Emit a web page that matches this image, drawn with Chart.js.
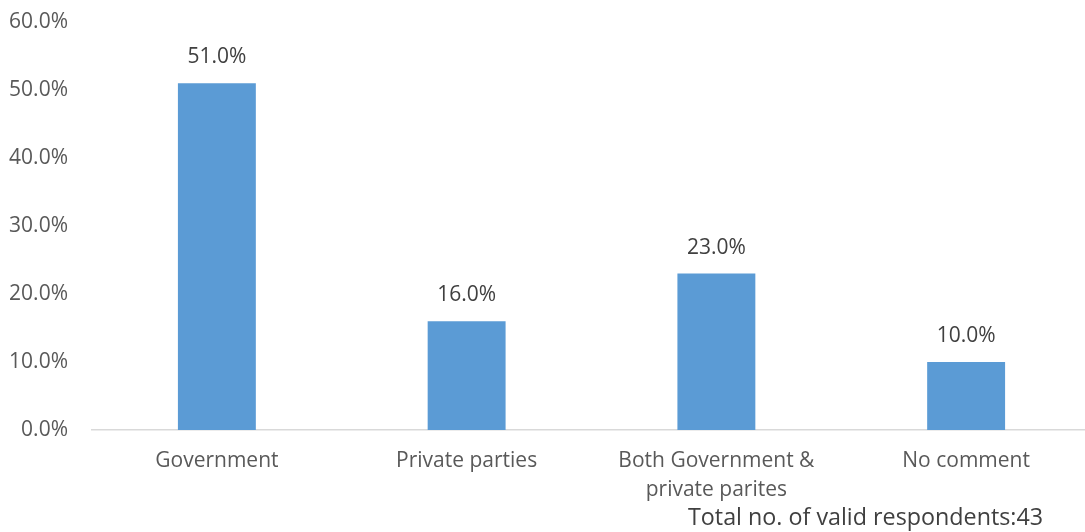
<!DOCTYPE html>
<html>
<head>
<meta charset="utf-8">
<script src="https://cdn.jsdelivr.net/npm/chart.js@4"></script>
<style>
  html, body { margin: 0; padding: 0; background: #fff; overflow: hidden; }
  #wrap { position: relative; width: 1092px; height: 532px; }
  #note {
    position: absolute; left: 688px; top: 500px;
    font-family: "Open Sans", sans-serif; font-size: 23.3px; color: #404040;
    white-space: nowrap;
  }
</style>
</head>
<body>
<div id="wrap">
  <canvas id="pihakChart" width="1092" height="532"></canvas>
  <div id="note">Total no. of valid respondents:43</div>
</div>
<script>
const categories = ['Government', 'Private parties', ['Both Government &', 'private parites'], 'No comment'];
const shares = [51.0, 16.0, 23.0, 10.0];
const yTicks = [0, 10, 20, 30, 40, 50, 60];

const fontFamily = '"Open Sans", sans-serif';

// label persen di atas tiap batang
const barLabels = {
  id: 'barLabels',
  afterDatasetsDraw(chart) {
    const ctx = chart.ctx;
    const meta = chart.getDatasetMeta(0);
    ctx.save();
    ctx.font = '21px ' + fontFamily;
    ctx.fillStyle = '#404040';
    ctx.textAlign = 'center';
    ctx.textBaseline = 'middle';
    meta.data.forEach((bar, i) => {
      ctx.fillText(shares[i].toFixed(1) + '%', bar.x, bar.y - 26);
    });
    ctx.restore();
  }
};

const ctx = document.getElementById('pihakChart').getContext('2d');
new Chart(ctx, {
  type: 'bar',
  data: {
    labels: categories,
    datasets: [{
      data: shares,
      backgroundColor: '#5B9BD5',
      barPercentage: 0.312,
      categoryPercentage: 1.0
    }]
  },
  options: {
    responsive: false,
    animation: false,
    layout: { padding: { top: 22, left: 0, right: 1 } },
    plugins: {
      legend: { display: false },
      tooltip: { enabled: false }
    },
    scales: {
      x: {
        grid: { display: false },
        border: { color: '#D9D9D9', width: 1.5 },
        ticks: {
          color: '#595959',
          font: { family: fontFamily, size: 21, lineHeight: 1.38 },
          padding: 9,
          maxRotation: 0,
          autoSkip: false
        },
        afterFit(scale) { scale.height = 102; }
      },
      y: {
        min: 0,
        max: 60,
        afterBuildTicks(scale) { scale.ticks = yTicks.map(v => ({ value: v })); },
        // jarak label ke area plot lewat tickLength, bukan padding
        grid: { display: false, tickLength: 24 },
        border: { display: false },
        ticks: {
          color: '#595959',
          font: { family: fontFamily, size: 21 },
          padding: 0,
          callback: v => v.toFixed(1) + '%'
        },
        afterFit(scale) { scale.width = 92; }
      }
    }
  },
  plugins: [barLabels]
});
</script>
</body>
</html>
